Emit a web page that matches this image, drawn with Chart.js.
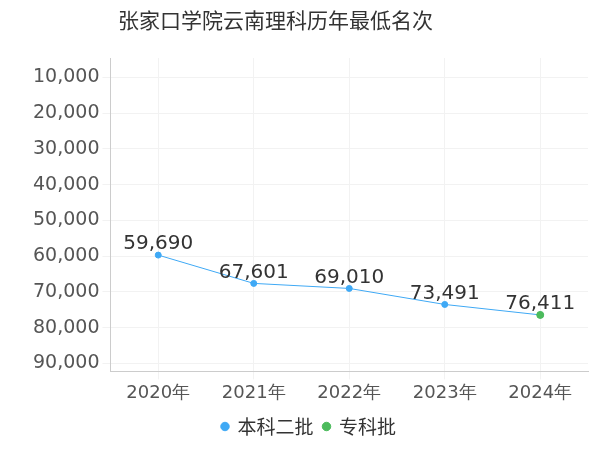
<!DOCTYPE html>
<html><head><meta charset="utf-8">
<script src="https://cdn.jsdelivr.net/npm/chart.js@4"></script>
<style>body{margin:0;background:#fff}#w{width:600px;height:450px}</style>
</head><body><div id="w"><canvas id="c" width="600" height="450"></canvas></div>
<script>
const categories=["2020年","2021年","2022年","2023年","2024年"];
const benke2=[59690,67601,69010,73491,76411];
const zhuanke=[null,null,null,null,76411];
const yTicks=[10000,20000,30000,40000,50000,60000,70000,80000,90000];
const titleText='张家口学院云南理科历年最低名次';
const labelPlugin={id:'lbl',afterDatasetsDraw(ch){const ctx=ch.ctx;const m=ch.getDatasetMeta(0);ctx.save();ctx.font='20px "DejaVu Sans"';ctx.fillStyle='#333';ctx.textAlign='center';ctx.textBaseline='bottom';m.data.forEach((p,i)=>{ctx.fillText(benke2[i].toLocaleString('en-US'),p.x,p.y-1);});
ctx.font='21px "Noto Sans CJK SC"';ctx.textAlign='left';ctx.textBaseline='middle';ctx.fillText(titleText,118,20);ctx.restore();}};
new Chart(document.getElementById('c'),{type:'line',
data:{labels:categories,datasets:[
{label:'本科二批',data:benke2,borderColor:'#3fa9f5',backgroundColor:'#3fa9f5',borderWidth:1,pointRadius:3,order:2},
{label:'专科批',data:zhuanke,borderColor:'#4cbb5c',backgroundColor:'#4cbb5c',borderWidth:1,pointRadius:3.5,order:1}]},
options:{responsive:false,animation:false,layout:{padding:{left:30,right:12,top:58,bottom:4}},
plugins:{title:{display:false},
legend:{position:'bottom',labels:{sort:(a,b)=>a.datasetIndex-b.datasetIndex,usePointStyle:true,pointStyle:'circle',boxWidth:6,boxHeight:6,font:{size:19,family:'"Noto Sans CJK SC"'},color:'#333'}},tooltip:{enabled:false}},
scales:{y:{reverse:true,min:4600,max:92200,afterBuildTicks(a){a.ticks=yTicks.map(v=>({value:v}));},
ticks:{font:{size:19,family:'"DejaVu Sans"'},color:'#555',callback:v=>v.toLocaleString('en-US')},grid:{color:'#f2f2f2'},border:{color:'#ccc'}},
x:{offset:true,ticks:{font:{size:18,family:'"DejaVu Sans"'},color:'#555'},grid:{color:'#f2f2f2'},border:{color:'#ccc'}}}},
plugins:[labelPlugin]});
</script></body></html>
